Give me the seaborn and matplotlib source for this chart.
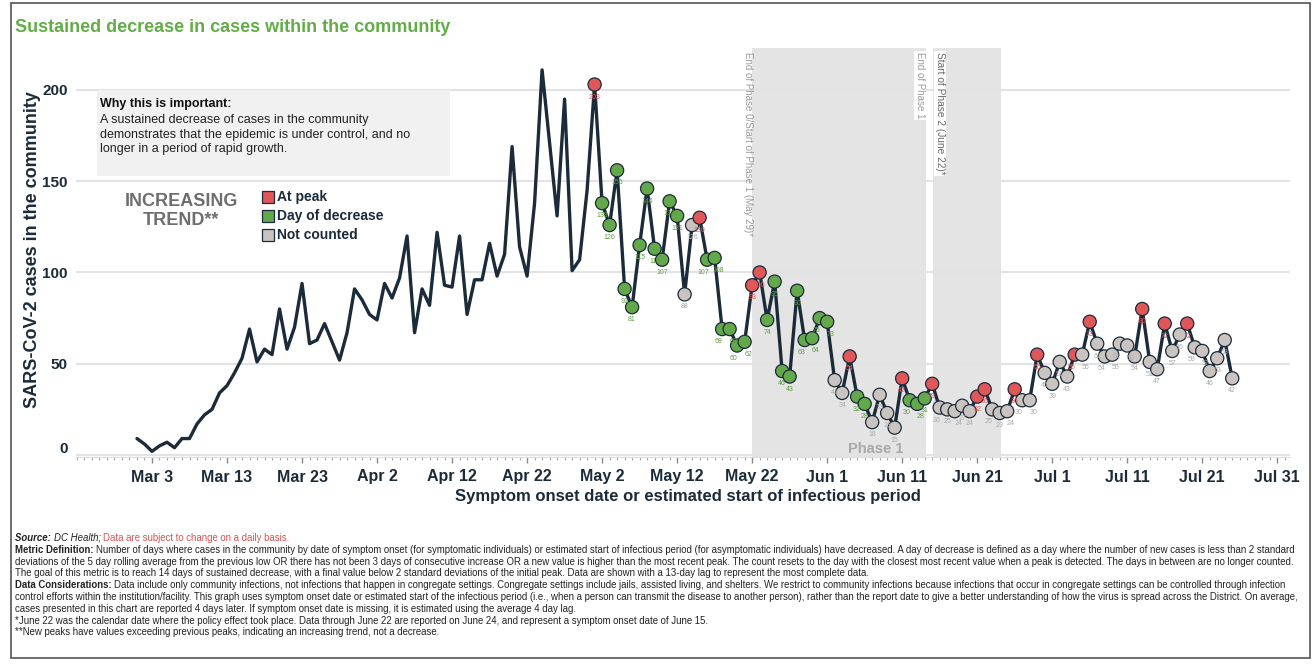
import numpy as np
import pandas as pd
import matplotlib
matplotlib.use("Agg")
import matplotlib.pyplot as plt
import matplotlib.dates as mdates
import matplotlib.transforms as mtrans
from matplotlib.lines import Line2D
from matplotlib.patches import Rectangle
import seaborn as sns

# ------------------------------------------------------------------ data
early_start = "2020-03-01"
early_cases = [9, 6, 2, 5, 7, 4, 9, 9, 17, 22, 25, 34, 38, 45, 53, 69, 51, 58, 55, 80,
               58, 70, 94, 61, 63, 72, 62, 52, 67, 91, 85,
               77, 74, 94, 86, 97, 120, 67, 91, 82, 122, 93, 92, 120, 77, 96, 96, 116, 98,
               110, 169, 114, 98, 138, 211, 171, 131, 195, 101, 107, 145]

tracked_start = "2020-05-01"
may_cases = [203, 138, 126, 156, 91, 81, 115, 146, 113, 107, 139, 131, 88, 126, 130, 107,
             108, 69, 69, 60, 62, 93, 100, 74, 95, 46, 43, 90, 63, 64, 75]
jun_cases = [73, 41, 34, 54, 32, 28, 18, 33, 23, 15, 42, 30, 28, 31, 39, 26, 25, 24, 27, 24,
             32, 36, 25, 23, 24, 36, 30, 30, 55, 45]
jul_cases = [39, 51, 43, 55, 55, 73, 61, 54, 55, 61, 60, 54, 80, 51, 47, 72, 57, 66, 72, 59,
             57, 46, 53, 63, 42]
may_status = list("PDDDDDDDDDDDNNPDDDDDDPPDDDDDDDD")
jun_status = list("DNNPDDNNNNPDDDPNNNNNPPNNNPNNPN")
jul_status = list("NNNPNPNNNNNNPNNPNNPNNNNNN")
status_names = {"P": "At peak", "D": "Day of decrease", "N": "Not counted"}
legend_order = ["At peak", "Day of decrease", "Not counted"]

tick_start = "2020-03-03"
tick_count = 16
y_ticks = [0, 50, 100, 150, 200]

phase1_span = ("2020-05-22", "2020-06-14")
phase2_span = ("2020-06-15", "2020-06-24")

# ------------------------------------------------------------------ style
NAVY = "#1c2b39"
RED = "#e05759"
GREEN = "#63a84a"
GREY = "#cac4c1"
LBL = {"At peak": "#e05759", "Day of decrease": "#5a9e40", "Not counted": "#a9a9a9"}
PAL = {"At peak": RED, "Day of decrease": GREEN, "Not counted": GREY}

sns.set_theme(style="white")
plt.rcParams["font.family"] = ["Liberation Sans", "DejaVu Sans"]

W, H = 1314, 666
fig = plt.figure(figsize=(W / 100, H / 100), dpi=100)
fx = lambda x: x / W
fy = lambda y: 1 - y / H

ax_l, ax_r, ax_t, ax_b = 76, 1290, 48, 457
ax = fig.add_axes([fx(ax_l), fy(ax_b), (ax_r - ax_l) / W, (ax_b - ax_t) / H])

tracked_cases = may_cases + jun_cases + jul_cases
tracked_status = [status_names[s] for s in may_status + jun_status + jul_status]
all_cases = early_cases + tracked_cases
df_line = pd.DataFrame({"date": pd.date_range(early_start, periods=len(all_cases)),
                        "cases": all_cases})
df_pts = pd.DataFrame({"date": pd.date_range(tracked_start, periods=len(tracked_cases)),
                       "cases": tracked_cases, "status": tracked_status})

# shading
ax.axvspan(mdates.date2num(pd.Timestamp(phase1_span[0])),
           mdates.date2num(pd.Timestamp(phase1_span[1])) + 0.2,
           color="#e4e4e4", zorder=0, lw=0)
ax.axvspan(mdates.date2num(pd.Timestamp(phase2_span[0])) + 0.1,
           mdates.date2num(pd.Timestamp(phase2_span[1])) + 0.2,
           color="#e4e4e4", zorder=0, lw=0)

sns.lineplot(data=df_line, x="date", y="cases", color=NAVY, lw=2.4, ax=ax, zorder=2)
sns.scatterplot(data=df_pts, x="date", y="cases", hue="status", palette=PAL, s=90,
                edgecolor=NAVY, linewidth=0.9, legend=False, ax=ax, zorder=3)

# value labels (nudge neighbouring labels with near-equal values apart)
vals = list(df_pts["cases"])
offs = [0.0] * len(vals)
for i in range(len(vals) - 1):
    if abs(vals[i + 1] - vals[i]) <= 2:
        offs[i] -= 2.5
        offs[i + 1] += 2.5
for (d, v, s), o in zip(zip(df_pts["date"], df_pts["cases"], df_pts["status"]), offs):
    ax.annotate(str(v), (d, v), xytext=(o, -6.5), textcoords="offset points", ha="center",
                va="top", fontsize=5.0, color=LBL[s], zorder=4)

# axes
t0 = mdates.date2num(pd.Timestamp(tick_start))
ax.set_xlim(t0 - 10.13, t0 + 151.7)
ax.set_ylim(-1.1, 223)
majors = pd.date_range(tick_start, periods=tick_count, freq="10D")
ax.set_xticks(majors)
ax.set_xticklabels([f"{d:%b} {d.day}" for d in majors], fontsize=11.5, fontweight="bold",
                   color=NAVY)
ax.xaxis.set_minor_locator(mdates.DayLocator())
ax.tick_params(axis="x", which="major", length=4, width=1, color="#888888", pad=5)
ax.tick_params(axis="x", which="minor", length=2.5, width=0.8, color="#aaaaaa")
ax.tick_params(axis="x", bottom=True, which="both", direction="out")
ax.set_yticks(y_ticks)
ax.set_yticklabels([str(v) for v in y_ticks], fontsize=11, fontweight="bold", color=NAVY)
ax.tick_params(axis="y", length=0, pad=6)
zero_lbl = ax.get_yticklabels()[0]
zero_lbl.set_transform(zero_lbl.get_transform()
                       + mtrans.ScaledTranslation(0, 7 / 100, fig.dpi_scale_trans))
ax.set_xlabel("")
ax.set_ylabel("")
ax.set_axisbelow(True)
ax.yaxis.grid(True, color="#e3e3e3", lw=1.5)
ax.xaxis.grid(False)
for sp in ["left", "top", "right"]:
    ax.spines[sp].set_visible(False)
ax.spines["bottom"].set_color("#dddddd")
ax.spines["bottom"].set_linewidth(0.8)

# labels
fig.text(fx(15), fy(28), "Sustained decrease in cases within the community", fontsize=13,
         fontweight="bold", color="#62ad47", ha="left", va="center")
fig.text(fx(33), fy(250), "SARS-CoV-2 cases in the community", fontsize=13,
         fontweight="bold", color=NAVY, rotation=90, ha="center", va="center")
fig.text(fx(688), fy(497), "Symptom onset date or estimated start of infectious period",
         fontsize=12, fontweight="bold", color=NAVY, ha="center", va="center")

# info box
fig.patches.append(Rectangle((fx(97), fy(176)), (450 - 97) / W, (176 - 90) / H,
                             transform=fig.transFigure, facecolor="#f1f1f1",
                             edgecolor="none", zorder=1))
fig.text(fx(100), fy(104), "Why this is important:", fontsize=9, fontweight="bold",
         color="#111111", ha="left", va="center", zorder=5)
fig.text(fx(100), fy(114), "A sustained decrease of cases in the community\n"
         "demonstrates that the epidemic is under control, and no\n"
         "longer in a period of rapid growth.", fontsize=9, color="#222222",
         ha="left", va="top", linespacing=1.3, zorder=5)

fig.text(fx(181), fy(211), "INCREASING\nTREND**", fontsize=13, fontweight="bold",
         color="#6e6e6e", ha="center", va="center", linespacing=1.2)

# legend
for i, name in enumerate(legend_order):
    yy = 197 + i * 19
    fig.add_artist(Line2D([fx(268)], [fy(yy)], marker="s", ls="", markersize=9,
                          markerfacecolor=PAL[name], markeredgecolor=NAVY,
                          markeredgewidth=0.9, transform=fig.transFigure))
    fig.text(fx(277), fy(yy), name, fontsize=10, fontweight="bold", color=NAVY,
             ha="left", va="center")

# phase annotations
fig.text(fx(748), fy(52), "End of Phase 0/Start of Phase 1 (May 29)*", fontsize=7,
         color="#9a9a9a", rotation=270, ha="center", va="top")
fig.text(fx(920), fy(52), "End of Phase 1", fontsize=7, color="#9a9a9a", rotation=270,
         ha="center", va="top", bbox=dict(facecolor="white", edgecolor="none", pad=1))
fig.text(fx(940), fy(52), "Start of Phase 2 (June 22)*", fontsize=7.3, color="#666666",
         rotation=270, ha="center", va="top",
         bbox=dict(facecolor="white", edgecolor="none", pad=1))
fig.text(fx(876), fy(449), "Phase 1", fontsize=10.5, fontweight="bold", color="#a8a8a8",
         ha="center", va="center")

# footer
renderer = fig.canvas.get_renderer()
FAM = ["Liberation Sans Narrow", "Liberation Sans", "DejaVu Sans"]
DARK = "#222222"
footer = [
    [("Source: ", "bold", "italic", DARK), ("DC Health; ", "normal", "italic", DARK),
     ("Data are subject to change on a daily basis.", "normal", "normal", "#d9534f")],
    [("Metric Definition: ", "bold", "normal", DARK),
     ("Number of days where cases in the community by date of symptom onset (for symptomatic individuals) or estimated start of infectious period (for asymptomatic individuals) have decreased. A day of decrease is defined as a day where the number of new cases is less than 2 standard", "normal", "normal", DARK)],
    [("deviations of the 5 day rolling average from the previous low OR there has not been 3 days of consecutive increase OR a new value is higher than the most recent peak. The count resets to the day with the closest most recent value when a peak is detected. The days in between are no longer counted.", "normal", "normal", DARK)],
    [("The goal of this metric is to reach 14 days of sustained decrease, with a final value below 2 standard deviations of the initial peak. Data are shown with a 13-day lag to represent the most complete data.", "normal", "normal", DARK)],
    [("Data Considerations: ", "bold", "normal", DARK),
     ("Data include only community infections, not infections that happen in congregate settings. Congregate settings include jails, assisted living, and shelters. We restrict to community infections because infections that occur in congregate settings can be controlled through infection", "normal", "normal", DARK)],
    [("control efforts within the institution/facility. This graph uses symptom onset date or estimated start of the infectious period (i.e., when a person can transmit the disease to another person), rather than the report date to give a better understanding of how the virus is spread across the District. On average,", "normal", "normal", DARK)],
    [("cases presented in this chart are reported 4 days later. If symptom onset date is missing, it is estimated using the average 4 day lag.", "normal", "normal", DARK)],
    [("*June 22 was the calendar date where the policy effect took place. Data through June 22 are reported on June 24, and represent a symptom onset date of June 15.", "normal", "normal", DARK)],
    [("**New peaks have values exceeding previous peaks, indicating an increasing trend, not a decrease.", "normal", "normal", DARK)],
]


def line_width(parts, size):
    tot = 0
    for txt, w, st, c in parts:
        t = fig.text(0, 0, txt, fontsize=size, fontweight=w, fontstyle=st, family=FAM)
        tot += t.get_window_extent(renderer).width
        t.remove()
    return tot


fsize = 10 * 1281 / line_width(footer[1], 10)
fsize = min(fsize, 7.0)
y0 = 541
for i, parts in enumerate(footer):
    cur = 15
    yy = y0 + i * 11.8
    for txt, w, st, c in parts:
        t = fig.text(fx(cur), fy(yy), txt, fontsize=fsize, fontweight=w, fontstyle=st,
                     color=c, family=FAM, ha="left", va="baseline")
        cur += t.get_window_extent(renderer).width

# frame
fig.patches.append(Rectangle((fx(11), fy(658)), (1310 - 11) / W, (658 - 3) / H,
                             transform=fig.transFigure, facecolor="none",
                             edgecolor="#555555", lw=1.2, zorder=10))

fig.savefig("out.png", dpi=100)
